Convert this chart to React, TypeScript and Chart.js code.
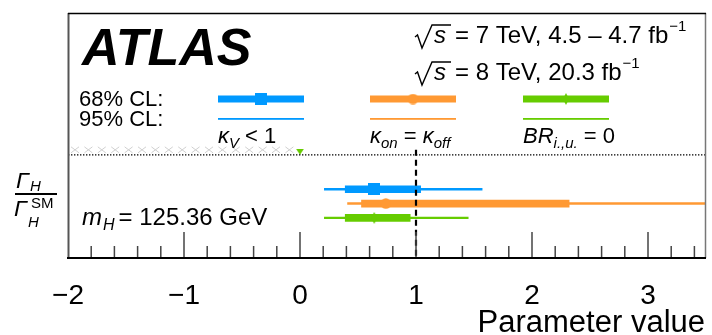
import { useEffect, useRef } from 'react';
import { Chart, registerables } from 'chart.js';

Chart.register(...registerables);

const FAMILY = '"Liberation Sans", Arial, Helvetica, sans-serif';

// Width scenarios, in drawing order from top to bottom
const SCENARIOS = ['kappaV', 'kappaOnOff', 'brInvUndet'];
const SCENARIO_COLORS = ['#0099ff', '#ff9933', '#66cc00'];
const ROWS = [1, 2, 3];

// Γ_H / Γ_H^SM best fit and confidence intervals
const CENTRAL = [0.64, 0.74, 0.64];
const CL68_LOW = [0.39, 0.53, 0.39];
const CL68_HIGH = [1.04, 2.32, 0.95];
const CL95_LOW = [0.21, 0.41, 0.21];
const CL95_HIGH = [1.57, 4.2, 1.45];

// Axis layout
const X_MIN = -2;
const X_MAX = 3.5;
const MAJOR_TICKS = [-2, -1, 0, 1, 2, 3];
const MINOR_STEP = 0.2;
const SM_VALUE = 1;
const Y_MIN = -11.3;
const Y_MAX = 5.8;
const PANEL_SPLIT_Y = -1.4;
const LIMIT_ARROW = [{ x: 0, y: -1.62 }];

type Run = [string, number, string?, number?];

function drawRuns(ctx: CanvasRenderingContext2D, x: number, y: number, runs: Run[]) {
  let cx = x;
  for (const [text, size, style = '', dy = 0] of runs) {
    ctx.font = `${style} ${size}px ${FAMILY}`.trim();
    ctx.fillText(text, cx, y + dy);
    cx += ctx.measureText(text).width;
  }
  return cx;
}

function drawSqrtS(ctx: CanvasRenderingContext2D, x: number, b: number) {
  ctx.save();
  ctx.strokeStyle = '#000';
  ctx.lineWidth = 1.4;
  ctx.lineJoin = 'miter';
  ctx.beginPath();
  ctx.moveTo(x, b - 6);
  ctx.lineTo(x + 2.5, b - 8);
  ctx.lineTo(x + 7, b + 5);
  ctx.lineTo(x + 17, b - 18);
  ctx.lineTo(x + 36, b - 18);
  ctx.stroke();
  ctx.restore();
  drawRuns(ctx, x + 19, b, [['s', 24, 'italic']]);
}

function makeMarker(kind: string, color: string): HTMLCanvasElement {
  const c = document.createElement('canvas');
  const g = c.getContext('2d')!;
  if (kind === 'square') {
    c.width = 12;
    c.height = 12;
    g.fillStyle = color;
    g.fillRect(0, 0, 12, 12);
  } else if (kind === 'circle') {
    c.width = 11;
    c.height = 11;
    g.fillStyle = color;
    g.beginPath();
    g.arc(5.5, 5.5, 5.2, 0, Math.PI * 2);
    g.fill();
  } else if (kind === 'diamond') {
    c.width = 6;
    c.height = 12;
    g.fillStyle = color;
    g.beginPath();
    g.moveTo(3, 0);
    g.lineTo(6, 6);
    g.lineTo(3, 12);
    g.lineTo(0, 6);
    g.closePath();
    g.fill();
  } else {
    c.width = 8;
    c.height = 6;
    g.fillStyle = color;
    g.beginPath();
    g.moveTo(0, 0);
    g.lineTo(8, 0);
    g.lineTo(4, 6);
    g.closePath();
    g.fill();
  }
  return c;
}

export default function App() {
  const canvasRef = useRef<HTMLCanvasElement | null>(null);

  useEffect(() => {
    const canvas = canvasRef.current;
    if (!canvas) return;

    const markers = [
      makeMarker('square', SCENARIO_COLORS[0]),
      makeMarker('circle', SCENARIO_COLORS[1]),
      makeMarker('diamond', SCENARIO_COLORS[2]),
    ];
    const arrowMarker = makeMarker('triangle', SCENARIO_COLORS[2]);

    const framePlugin = {
      id: 'atlasFrame',
      beforeDatasetsDraw(chart: any) {
        const { ctx, chartArea: a, scales } = chart;
        const ySplit = scales.y.getPixelForValue(PANEL_SPLIT_Y);
        ctx.save();
        // light grey crosses along the panel divider
        ctx.strokeStyle = '#d0d0d0';
        ctx.lineWidth = 1;
        const stop = scales.x.getPixelForValue(0) - 6;
        for (let px = a.left + 7; px < stop; px += 13.4) {
          ctx.beginPath();
          ctx.moveTo(px - 4, ySplit - 8);
          ctx.lineTo(px + 4, ySplit - 2);
          ctx.moveTo(px + 4, ySplit - 8);
          ctx.lineTo(px - 4, ySplit - 2);
          ctx.stroke();
        }
        ctx.restore();
      },
      afterDatasetsDraw(chart: any) {
        const { ctx, chartArea: a, scales } = chart;
        const x = scales.x;
        const ySplit = scales.y.getPixelForValue(PANEL_SPLIT_Y);
        ctx.save();

        // dotted divider between legend panel and results
        ctx.strokeStyle = '#000';
        ctx.lineWidth = 1.2;
        ctx.setLineDash([1.4, 1.6]);
        ctx.beginPath();
        ctx.moveTo(a.left, ySplit);
        ctx.lineTo(a.right, ySplit);
        ctx.stroke();

        // SM expectation
        const xSM = x.getPixelForValue(SM_VALUE);
        ctx.lineWidth = 2.2;
        ctx.setLineDash([6, 4]);
        ctx.beginPath();
        ctx.moveTo(xSM, ySplit - 5);
        ctx.lineTo(xSM, a.bottom);
        ctx.stroke();
        ctx.setLineDash([]);

        // inward ticks
        ctx.strokeStyle = '#444';
        ctx.lineWidth = 1.5;
        const nMinor = Math.round((X_MAX - X_MIN) / MINOR_STEP);
        for (let i = 1; i <= nMinor; i++) {
          const v = X_MIN + i * MINOR_STEP;
          if (v >= X_MAX - 1e-6) break;
          const isMajor = MAJOR_TICKS.some((t) => Math.abs(t - v) < 1e-6);
          const px = x.getPixelForValue(v);
          ctx.beginPath();
          ctx.moveTo(px, a.bottom);
          ctx.lineTo(px, a.bottom - (isMajor ? 26 : 12));
          ctx.stroke();
        }

        // frame
        ctx.strokeStyle = '#555';
        ctx.lineWidth = 2;
        ctx.beginPath();
        ctx.moveTo(a.left + 0.5, a.top);
        ctx.lineTo(a.left + 0.5, a.bottom);
        ctx.stroke();
        ctx.strokeStyle = '#777';
        ctx.lineWidth = 1.5;
        ctx.beginPath();
        ctx.moveTo(a.right - 0.5, a.top);
        ctx.lineTo(a.right - 0.5, a.bottom);
        ctx.stroke();
        ctx.strokeStyle = '#000';
        ctx.lineWidth = 1.5;
        ctx.beginPath();
        ctx.moveTo(a.left, a.top + 0.5);
        ctx.lineTo(a.right, a.top + 0.5);
        ctx.stroke();
        ctx.lineWidth = 2;
        ctx.beginPath();
        ctx.moveTo(a.left - 1, a.bottom);
        ctx.lineTo(a.right, a.bottom);
        ctx.stroke();

        // tick labels and axis title
        ctx.fillStyle = '#000';
        ctx.textBaseline = 'alphabetic';
        ctx.textAlign = 'center';
        ctx.font = `28px ${FAMILY}`;
        for (const t of MAJOR_TICKS) {
          const label = t < 0 ? `\u2212${Math.abs(t)}` : `${t}`;
          ctx.fillText(label, x.getPixelForValue(t), 304);
        }
        ctx.textAlign = 'right';
        ctx.font = `31px ${FAMILY}`;
        ctx.fillText('Parameter value', 705, 332);
        ctx.textAlign = 'left';

        // ATLAS label and dataset info
        ctx.font = `bold italic 52px ${FAMILY}`;
        ctx.fillText('ATLAS', 82, 65);
        drawSqrtS(ctx, 415, 43);
        let end = drawRuns(ctx, 455, 43, [['= 7 TeV, 4.5 \u2013 4.7 fb', 24]]);
        drawRuns(ctx, end + 1, 43, [['\u22121', 15, '', -12]]);
        drawSqrtS(ctx, 415, 80);
        end = drawRuns(ctx, 455, 80, [['= 8 TeV, 20.3 fb', 24]]);
        drawRuns(ctx, end + 1, 80, [['\u22121', 15, '', -12]]);

        // legend
        drawRuns(ctx, 79, 106, [['68% CL:', 22]]);
        drawRuns(ctx, 79, 126, [['95% CL:', 22]]);
        const legendX = [218, 370, 523];
        const legendW = 86;
        SCENARIOS.forEach((_, i) => {
          const lx = legendX[i];
          ctx.fillStyle = SCENARIO_COLORS[i];
          ctx.fillRect(lx, 95.5, legendW, 7);
          ctx.fillRect(lx, 118, legendW, 1.8);
          const m = markers[i];
          ctx.drawImage(m, lx + legendW / 2 - m.width / 2, 99 - m.height / 2);
        });
        ctx.fillStyle = '#000';
        drawRuns(ctx, 218, 143, [
          ['\u03ba', 22, 'italic'],
          ['V', 15, 'italic', 5],
          [' < 1', 22],
        ]);
        drawRuns(ctx, 370, 143, [
          ['\u03ba', 22, 'italic'],
          ['on', 15, 'italic', 5],
          [' = ', 22],
          ['\u03ba', 22, 'italic'],
          ['off', 15, 'italic', 5],
        ]);
        drawRuns(ctx, 523, 143, [
          ['BR', 22, 'italic'],
          ['i.,u.', 15, 'italic', 5],
          [' = 0', 22],
        ]);

        // y-axis quantity
        drawRuns(ctx, 16, 188, [['\u0393', 23, 'italic']]);
        drawRuns(ctx, 30, 191, [['H', 15, 'italic']]);
        ctx.fillRect(15, 193, 42, 2);
        drawRuns(ctx, 14, 216, [['\u0393', 23, 'italic']]);
        drawRuns(ctx, 31, 208, [['SM', 15]]);
        drawRuns(ctx, 28, 227, [['H', 15, 'italic']]);

        // Higgs mass
        end = drawRuns(ctx, 82, 225, [['m', 24, 'italic']]);
        end = drawRuns(ctx, end + 1, 230, [['H', 16, 'italic']]);
        drawRuns(ctx, end + 4, 225, [['= 125.36 GeV', 24]]);

        ctx.restore();
      },
    };

    const chart = new Chart(canvas, {
      type: 'bar',
      data: {
        datasets: [
          {
            type: 'scatter',
            data: ROWS.map((r, i) => ({ x: CENTRAL[i], y: r })),
            pointStyle: markers as any,
            pointRadius: 5,
            order: 1,
          } as any,
          {
            type: 'scatter',
            data: LIMIT_ARROW,
            pointStyle: arrowMarker as any,
            pointRadius: 4,
            order: 1,
          } as any,
          {
            type: 'bar',
            indexAxis: 'y',
            data: ROWS.map((r, i) => ({ y: r, x: [CL68_LOW[i], CL68_HIGH[i]] })),
            backgroundColor: SCENARIO_COLORS,
            barThickness: 7,
            grouped: false,
            order: 2,
          } as any,
          {
            type: 'bar',
            indexAxis: 'y',
            data: ROWS.map((r, i) => ({ y: r, x: [CL95_LOW[i], CL95_HIGH[i]] })),
            backgroundColor: SCENARIO_COLORS,
            barThickness: 1.8,
            grouped: false,
            order: 3,
          } as any,
        ],
      },
      options: {
        responsive: false,
        animation: false,
        events: [],
        layout: { padding: { left: 68, right: 2, top: 13, bottom: 77 } },
        plugins: { legend: { display: false }, tooltip: { enabled: false } },
        scales: {
          x: { type: 'linear', min: X_MIN, max: X_MAX, display: false, offset: false, beginAtZero: false },
          y: { type: 'linear', min: Y_MIN, max: Y_MAX, reverse: true, display: false, offset: false },
        },
      } as any,
      plugins: [framePlugin],
    });

    return () => chart.destroy();
  }, []);

  return (
    <div style={{ position: 'fixed', left: 0, top: 0, width: 712, height: 335, background: '#fff' }}>
      <canvas ref={canvasRef} width={712} height={335} style={{ display: 'block' }} />
    </div>
  );
}
